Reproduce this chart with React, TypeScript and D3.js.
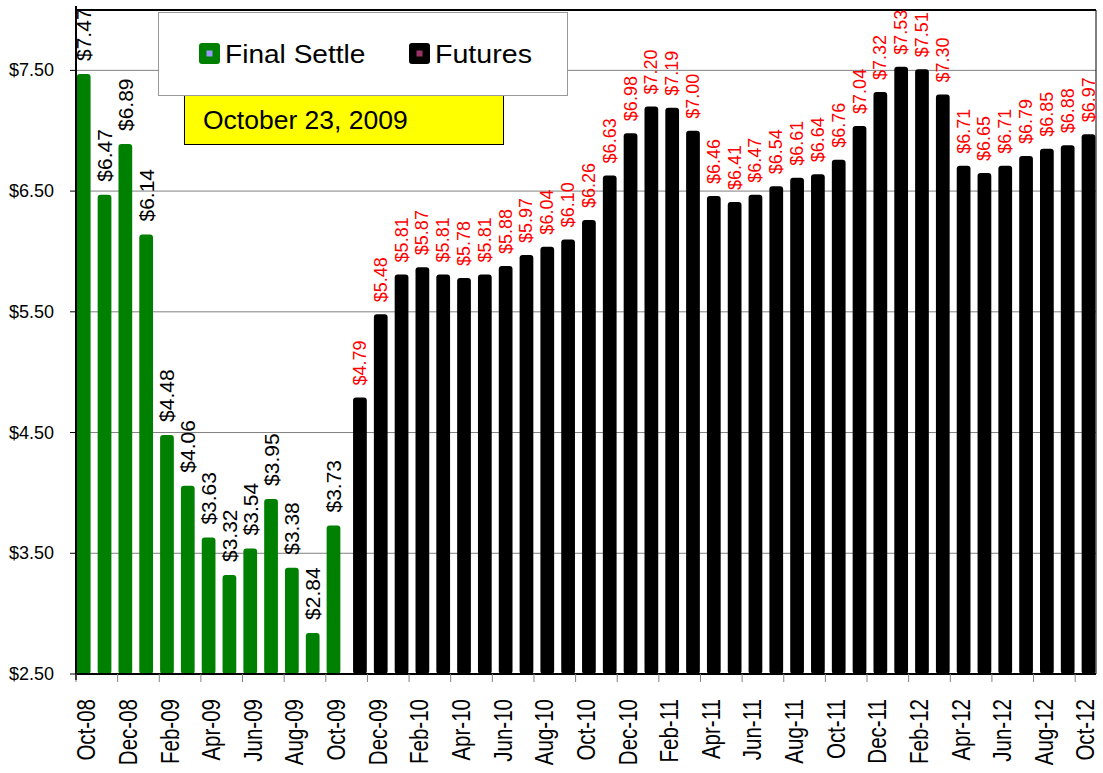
import React from "react";
import * as d3 from "d3";

// months on the category axis, Oct-08 .. Oct-12
const months = [
  "Oct-08", "Nov-08", "Dec-08", "Jan-09", "Feb-09", "Mar-09", "Apr-09", "May-09", "Jun-09",
  "Jul-09", "Aug-09", "Sep-09", "Oct-09", "Nov-09", "Dec-09", "Jan-10", "Feb-10", "Mar-10",
  "Apr-10", "May-10", "Jun-10", "Jul-10", "Aug-10", "Sep-10", "Oct-10", "Nov-10", "Dec-10",
  "Jan-11", "Feb-11", "Mar-11", "Apr-11", "May-11", "Jun-11", "Jul-11", "Aug-11", "Sep-11",
  "Oct-11", "Nov-11", "Dec-11", "Jan-12", "Feb-12", "Mar-12", "Apr-12", "May-12", "Jun-12",
  "Jul-12", "Aug-12", "Sep-12", "Oct-12",
];

const settleValues = [7.47, 6.47, 6.89, 6.14, 4.48, 4.06, 3.63, 3.32, 3.54, 3.95, 3.38, 2.84, 3.73];

const futuresValues = [
  4.79, 5.48, 5.81, 5.87, 5.81, 5.78, 5.81, 5.88, 5.97, 6.04, 6.1, 6.26,
  6.63, 6.98, 7.2, 7.19, 7.0, 6.46, 6.41, 6.47, 6.54, 6.61, 6.64, 6.76,
  7.04, 7.32, 7.53, 7.51, 7.3, 6.71, 6.65, 6.71, 6.79, 6.85, 6.88, 6.97,
];

const seriesNames = ["Final Settle", "Futures"];
const yTicks = [2.5, 3.5, 4.5, 5.5, 6.5, 7.5];
const dateLabel = "October 23, 2009";

const FONT = "'Liberation Sans', Arial, sans-serif";

export default function App() {
  const width = 1103;
  const height = 773;
  const left = 76;
  const right = 1096;
  const top = 10;
  const bottom = 674;

  const rows = [
    ...settleValues.map((v, i) => ({ month: months[i], value: v, series: seriesNames[0] })),
    ...futuresValues.map((v, i) => ({
      month: months[settleValues.length + i],
      value: v,
      series: seriesNames[1],
    })),
  ];

  //scales
  const x = d3.scaleBand().domain(months).range([left, right]).padding(0);
  const bw = x.bandwidth();
  const sub = d3.scalePoint().domain(seriesNames).range([bw * 0.37, bw * 0.64]);
  const barW = bw * 0.66;
  const y = d3.scaleLinear().domain([2.5, 8]).range([bottom, top]);
  const fmt = d3.format("$.2f");

  const colors: Record<string, string> = { "Final Settle": "#008000", Futures: "#000000" };

  const grid = yTicks.slice(1).map((t) => (
    <line key={t} x1={left} x2={right} y1={y(t)} y2={y(t)} stroke="#808080" strokeWidth={1} />
  ));

  const bars = rows.map((d) => {
    const cx = (x(d.month) as number) + (sub(d.series) as number);
    return (
      <rect
        key={d.month}
        x={cx - barW / 2}
        y={y(d.value)}
        width={barW}
        height={bottom - y(d.value)}
        rx={3}
        fill={colors[d.series]}
      />
    );
  });

  const valueLabels = rows.map((d) => {
    const cx = (x(d.month) as number) + (sub(d.series) as number);
    const isSettle = d.series === seriesNames[0];
    const ly = y(d.value) - (isSettle ? 13 : 12);
    return (
      <text
        key={d.month}
        transform={`translate(${cx},${ly}) rotate(-90)`}
        textAnchor="start"
        dominantBaseline="central"
        fontSize={isSettle ? 21 : 18}
        fill={isSettle ? "#000" : "#ff0000"}
      >
        {fmt(d.value)}
      </text>
    );
  });

  const xLabels = months
    .map((m, i) => ({ m, i }))
    .filter((d) => d.i % 2 === 0)
    .map(({ m }) => (
      <text
        key={m}
        transform={`translate(${(x(m) as number) + bw / 2},699) rotate(-90) scale(0.79,1)`}
        textAnchor="end"
        dominantBaseline="central"
        fontSize={26}
      >
        {m}
      </text>
    ));

  const xTicks = months
    .filter((_, i) => i % 2 === 0)
    .map((m) => (
      <line key={m} x1={x(m)} x2={x(m)} y1={bottom} y2={bottom + 8} stroke="#808080" />
    ));

  const yAxis = yTicks.map((t) => (
    <g key={t}>
      <line x1={left - 6} x2={left} y1={y(t)} y2={y(t)} stroke="#000" />
      <text x={54} y={y(t)} textAnchor="end" dominantBaseline="central" fontSize={18}>
        {fmt(t)}
      </text>
    </g>
  ));

  return (
    <svg
      width={width}
      height={height}
      style={{ position: "absolute", left: 0, top: 0, background: "#fff" }}
      fontFamily={FONT}
    >
      {grid}
      {bars}
      <line x1={left} x2={right} y1={bottom} y2={bottom} stroke="#000" strokeWidth={2} />
      <line x1={left} x2={right} y1={top} y2={top} stroke="#000" strokeWidth={2} />
      <line x1={right} x2={right} y1={top} y2={bottom} stroke="#000" strokeWidth={1} />
      <line x1={left} x2={left} y1={top - 4} y2={bottom + 6} stroke="#000" strokeWidth={2} />
      {xTicks}
      {yAxis}
      {xLabels}
      {valueLabels}

      {/* date box sits under the legend */}
      <rect x={184.5} y={60.5} width={319} height={84} fill="#ffff00" stroke="#000" />
      <text transform="translate(203,129) scale(1.06,1)" fontSize={25}>
        {dateLabel}
      </text>

      <rect x={158.5} y={12.5} width={409} height={83} fill="#fff" stroke="#999" />
      <rect x={199} y={43} width={21} height={21} rx={3} fill={colors["Final Settle"]} />
      <rect x={206.5} y={50.5} width={6} height={6} fill="#9999ff" />
      <text transform="translate(225,63) scale(1.08,1)" fontSize={26}>
        {seriesNames[0]}
      </text>
      <rect x={409} y={43} width={21} height={21} rx={3} fill={colors.Futures} />
      <rect x={416.5} y={50.5} width={6} height={6} fill="#993366" />
      <text transform="translate(435,63) scale(1.1,1)" fontSize={26}>
        {seriesNames[1]}
      </text>
    </svg>
  );
}
